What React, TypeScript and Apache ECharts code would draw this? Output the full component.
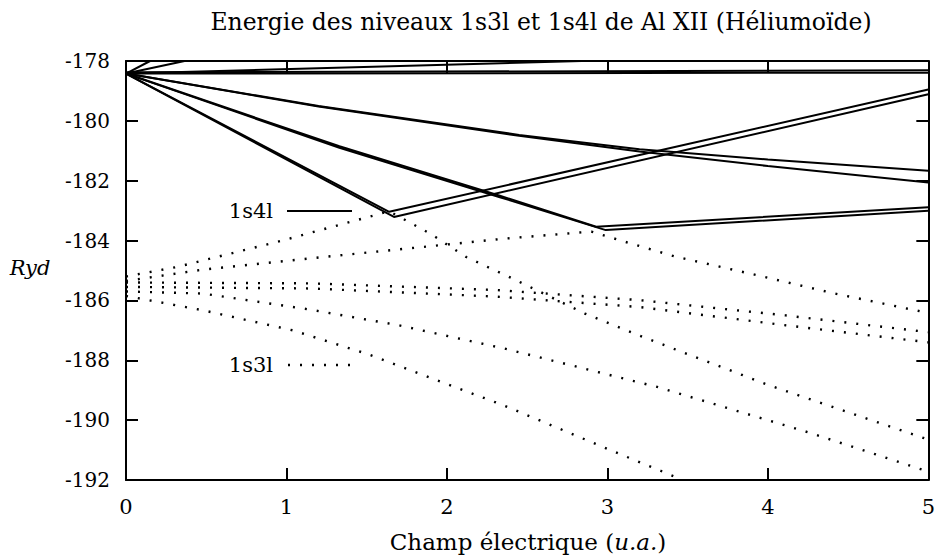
import React, { useEffect, useRef } from "react";
import * as echarts from "echarts";

// ---------- texts ----------
const titleText = "Energie des niveaux 1s3l et 1s4l de Al XII (Héliumoïde)";
const xAxisLabel = "Champ électrique ({i|u.a.})";
const yAxisLabel = "Ryd";
const key4 = "1s4l";
const key3 = "1s3l";

// ---------- axes ----------
const X_MIN = 0;
const X_MAX = 5;
const X_STEP = 1;
const Y_MIN = -192;
const Y_MAX = -178;
const Y_STEP = 2;

// ---------- 1s4l levels (solid lines) [field, energy] ----------
const s4UpSteep: number[][] = [[0, -178.42], [0.15, -178.0]];
const s4UpMid: number[][] = [[0, -178.42], [0.365, -178.0]];
const s4UpSlow: number[][] = [[0, -178.42], [2.84, -178.0]];
const s4FlatA: number[][] = [[0, -178.38], [5, -178.31]];
const s4FlatB: number[][] = [[0, -178.42], [5, -178.39]];
const s4Set1A: number[][] = [[0, -178.42], [1.2, -179.5], [2.45, -180.47], [3.2, -180.95], [4, -181.29], [5, -181.67]];
const s4Set1B: number[][] = [[0, -178.42], [1.2, -179.52], [2.45, -180.5], [3.2, -181.02], [4, -181.51], [5, -182.06]];
const s4Set2A: number[][] = [[0, -178.42], [1.33, -180.85], [2.33, -182.5], [2.93, -183.54], [5, -182.89]];
const s4Set2B: number[][] = [[0, -178.42], [1.33, -180.9], [2.33, -182.55], [2.99, -183.65], [5, -183.0]];
const s4Set3A: number[][] = [[0, -178.42], [1.64, -183.04], [5, -178.95]];
const s4Set3B: number[][] = [[0, -178.42], [1.67, -183.21], [5, -179.11]];

// ---------- 1s3l levels (dotted lines) ----------
const s3L1: number[][] = [[0, -185.2], [0.32, -184.88], [0.96, -184.02], [1.64, -183.02], [1.9, -183.78], [2.12, -184.55], [2.41, -185.27], [2.86, -186.44], [3.25, -187.28], [4.01, -188.84], [5, -190.65]];
const s3L2: number[][] = [[0, -185.35], [0.48, -184.97], [1.23, -184.55], [2.37, -183.93], [2.9, -183.7], [3.11, -184.04], [3.42, -184.53], [3.91, -185.13], [4.4, -185.75], [5, -186.42]];
const s3L3A: number[][] = [[0, -185.4], [1.15, -185.43], [2.3, -185.65], [3.2, -185.99], [4.11, -186.5], [5, -187.06]];
const s3L3B: number[][] = [[0, -185.55], [1.15, -185.6], [2.3, -185.87], [3.2, -186.22], [4.11, -186.83], [5, -187.4]];
const s3L4: number[][] = [[0, -185.7], [0.48, -185.77], [1.14, -186.3], [1.7, -186.83], [2.36, -187.61], [3.31, -188.89], [4.26, -190.42], [5, -191.72]];
const s3L5: number[][] = [[0, -185.85], [0.48, -186.33], [1.04, -187.0], [1.51, -187.8], [2.36, -189.52], [3.05, -191.07], [3.47, -192.0]];

const solidLevels = [s4UpSteep, s4UpMid, s4UpSlow, s4FlatA, s4FlatB, s4Set1A, s4Set1B, s4Set2A, s4Set2B, s4Set3A, s4Set3B];
const dottedLevels = [s3L1, s3L2, s3L3A, s3L3B, s3L4, s3L5];

const FONT = "'DejaVu Serif', 'Liberation Serif', serif";
const DOT: number[] = [2, 10];

export default function App() {
  const ref = useRef<HTMLDivElement>(null);
  useEffect(() => {
    if (!ref.current) return;
    const chart = echarts.init(ref.current, undefined, { renderer: "svg" });

    const axisCommon = {
      type: "value" as const,
      axisLine: { show: true, onZero: false, lineStyle: { color: "#000", width: 2 } },
      axisTick: { show: true, inside: true, length: 12, lineStyle: { color: "#000", width: 2 } },
      splitLine: { show: false },
    };

    const series: any[] = [];
    solidLevels.forEach((d, i) => {
      series.push({
        name: key4 + "-" + i,
        type: "line",
        data: d,
        showSymbol: false,
        symbol: "none",
        silent: true,
        clip: true,
        lineStyle: { color: "#000", width: 2 },
      });
    });
    dottedLevels.forEach((d, i) => {
      series.push({
        name: key3 + "-" + i,
        type: "line",
        data: d,
        showSymbol: false,
        symbol: "none",
        silent: true,
        clip: true,
        lineStyle: { color: "#000", width: 2.4, type: DOT, cap: "butt" },
      });
    });

    chart.setOption({
      animation: false,
      backgroundColor: "#fff",
      grid: { left: 126, right: 8, top: 61, bottom: 79, containLabel: false },
      xAxis: [
        {
          ...axisCommon,
          position: "bottom",
          min: X_MIN,
          max: X_MAX,
          interval: X_STEP,
          axisLabel: { color: "#000", fontFamily: FONT, fontSize: 21, margin: 16 },
        },
        {
          ...axisCommon,
          position: "top",
          min: X_MIN,
          max: X_MAX,
          interval: X_STEP,
          axisLabel: { show: false },
        },
      ],
      yAxis: [
        {
          ...axisCommon,
          position: "left",
          min: Y_MIN,
          max: Y_MAX,
          interval: Y_STEP,
          axisLabel: { color: "#000", fontFamily: FONT, fontSize: 20, margin: 16 },
        },
        {
          ...axisCommon,
          position: "right",
          min: Y_MIN,
          max: Y_MAX,
          interval: Y_STEP,
          axisLabel: { show: false },
        },
      ],
      series,
      graphic: [
        {
          type: "text",
          x: 541,
          y: 22,
          style: { text: titleText, fill: "#000", font: `23.5px ${FONT}`, align: "center", verticalAlign: "middle" },
        },
        {
          type: "text",
          x: 528,
          y: 542,
          style: {
            text: xAxisLabel,
            fill: "#000",
            font: `23px ${FONT}`,
            align: "center",
            verticalAlign: "middle",
            rich: { i: { fontStyle: "italic", fontFamily: FONT, fontSize: 23, fill: "#000" } },
          },
        },
        {
          type: "text",
          x: 30,
          y: 268,
          style: { text: yAxisLabel, fill: "#000", font: `italic 21px ${FONT}`, align: "center", verticalAlign: "middle" },
        },
        {
          type: "text",
          x: 273,
          y: 211,
          style: { text: key4, fill: "#000", font: `21px ${FONT}`, align: "right", verticalAlign: "middle" },
        },
        {
          type: "line",
          shape: { x1: 287, y1: 211, x2: 352, y2: 211 },
          style: { stroke: "#000", lineWidth: 2 },
        },
        {
          type: "text",
          x: 273,
          y: 365,
          style: { text: key3, fill: "#000", font: `21px ${FONT}`, align: "right", verticalAlign: "middle" },
        },
        {
          type: "line",
          shape: { x1: 288, y1: 365, x2: 354, y2: 365 },
          style: { stroke: "#000", lineWidth: 2.4, lineDash: DOT },
        },
      ],
    });
    return () => chart.dispose();
  }, []);

  return <div ref={ref} style={{ position: "fixed", left: 0, top: 0, width: 938, height: 559, background: "#fff" }} />;
}
